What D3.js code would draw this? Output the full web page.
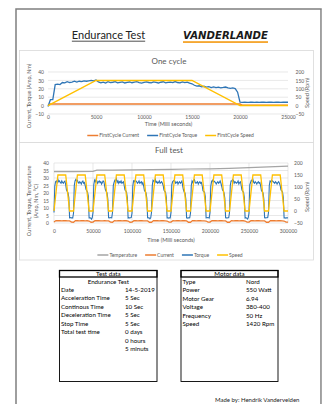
<!DOCTYPE html>
<html><head><meta charset="utf-8">
<script src="https://cdn.jsdelivr.net/npm/d3@7"></script>
<style>
body{margin:0;background:#fff;}
svg{display:block;font-family:Lato,"Open Sans",sans-serif;}
</style>
</head><body>
<svg id="c" width="322" height="404"></svg>
<script>
// ---------- DATA ----------
// One cycle (ms)
const cycleTorqueStep = 250;
const cycleTorque = [
 -1,7,7,25,25.5,25,27.5,27,28.5,27.5,28,29,28,29,28.5,29.5,29,29.5,30,29.5,30.5,
 28.2,27.1,27.9,26.8,28.4,27.3,27.8,28.6,27.0,27.7,28.3,26.9,27.6,28.1,27.2,27.9,28.5,27.4,26.8,27.7,
 28.2,27.5,27.0,28.3,27.6,26.9,27.8,28.4,27.1,27.6,28.0,27.3,28.6,27.5,27.0,28.2,27.4,27.9,26.7,26.0,
 24.2,23.1,23.6,22.4,23.0,22.1,22.6,21.5,22.2,21.4,22.0,21.2,21.6,22.1,21.0,20.6,21.1,20.2,16.0,
 4.0,3.8,4.1,3.9,4.0,4.2,3.9,4.0,3.8,4.1,4.0,3.9,4.1,4.0,3.8,4.0,4.1,3.9,4.0,4.1,4.0
];
const cycleCurrentT = [0, 250, 20000, 20250, 25000];
const cycleCurrent  = [0.3, 2, 2, 0.3, 0.3];
const cycleSpeedT = [0, 5000, 15000, 20000, 25000];
const cycleSpeed  = [0, 150, 150, 0, 0];

// Full test (ms)
const fullTorqueStep = 1000;
const fullTorque = [
 [7,24.5,27.5,28,27,29,27.5,28,27,26.5,28,27,26.5,27.5,28,25.5,22,21,20,17,3.5,3.6,3.4,3.5,3.3],
 [6.5,25,28,29,28,28.5,27,26.5,27.5,27,26,27.5,28,26.5,27,25,22.5,21.5,20.5,18,3.4,3.5,3.3,2.5,3.5],
 [7,25.5,28.5,27.5,29,28,26.5,27.5,28,27,27.5,26,27,28,27.5,24.5,22,21,20,16,3.5,3.4,3.6,3.5,3.4],
 [7,25,27,28.5,28,29.5,27,28,26.5,27.5,27,28,26.5,27,27.5,25,22,21.5,20.5,17,3.3,3.5,3.4,3.5,3.6],
 [6.5,24.5,28,27.5,28.5,28,27.5,26.5,27,28,26.5,27,27.5,26,27,24.5,21.5,21,20,16.5,3.5,3.4,3.5,2.8,3.5],
 [7,25,28.5,28,27,29,27,27.5,26.5,27,28,26.5,27,27.5,26.5,25,22,21,20.5,17,3.4,3.5,3.3,3.5,3.4],
 [7,25.5,27.5,28,28.5,28,26.5,27,27.5,26,27,27.5,26.5,27,28,24.5,22,20.5,20,16,3.5,3.3,3.5,3.4,3.5],
 [6.5,25,28,27,28.5,29,27,26.5,27,27.5,26,27,27.5,26.5,27,25,21.5,21,20.5,17.5,3.4,3.5,3.6,3.5,3.3],
 [7,24.5,27.5,28.5,27.5,28,27.5,27,26,27,27.5,26.5,27,28,26.5,24.5,22,21.5,20,16.5,3.5,3.4,3.3,3.5,3.5],
 [7,25,28,28,29,28.5,26.5,27.5,27,26.5,27,28,26,27,27.5,25,22,21,20.5,17,3.3,3.5,3.4,2.6,3.4],
 [6.5,25.5,27,28.5,28,29,27,26.5,27.5,27,26,27,27.5,26.5,27,24.5,21.5,21,20,16,3.5,3.4,3.5,3.5,3.6],
 [7,25,28,27.5,28.5,28,27.5,27,26.5,27.5,27,26,27,27.5,26.5,25,22,21.5,20.5,17,3.4,3.5,3.3,3.5,3.4]
];
const fullTorqueLast = 3.5;
const fullCurrentStep = 2500;
const fullCurrent = [
 [0.6,1.6,1.5,1.5,1.4,1.5,1.5,1.4,1.4,0.6],
 [0.5,1.6,1.5,1.4,1.5,1.5,1.4,1.5,1.3,0.5],
 [0.6,1.5,1.5,1.5,1.4,1.4,1.5,1.4,1.4,0.6],
 [0.5,1.6,1.4,1.5,1.5,1.4,1.5,1.5,1.3,0.5],
 [0.6,1.5,1.5,1.4,1.5,1.5,1.4,1.4,1.4,0.5],
 [0.5,1.6,1.5,1.5,1.4,1.5,1.5,1.4,1.3,0.6],
 [0.6,1.5,1.4,1.5,1.5,1.4,1.5,1.5,1.4,0.5],
 [0.5,1.6,1.5,1.4,1.5,1.5,1.4,1.4,1.3,0.6],
 [0.6,1.5,1.5,1.5,1.4,1.5,1.5,1.4,1.4,0.5],
 [0.5,1.6,1.4,1.5,1.5,1.4,1.5,1.5,1.3,0.6],
 [0.6,1.5,1.5,1.4,1.5,1.5,1.4,1.4,1.4,0.5],
 [0.5,1.6,1.5,1.5,1.4,1.5,1.5,1.4,1.3,0.6]
];
const fullCurrentLast = 0.6;
const fullTempT = [0,25000,50000,55000,75000,100000,125000,150000,175000,200000,225000,250000,275000,300000];
const fullTemp  = [34.2,34.3,34.4,35.2,35.3,35.4,35.6,35.8,36.0,36.1,36.4,36.9,37.4,37.9];
const fullSpeedT = [0,5000,15000,20000, 25000,30000,40000,45000, 50000,55000,65000,70000,
 75000,80000,90000,95000, 100000,105000,115000,120000, 125000,130000,140000,145000,
 150000,155000,165000,170000, 175000,180000,190000,195000, 200000,205000,215000,220000,
 225000,230000,240000,245000, 250000,255000,265000,270000, 275000,280000,290000,295000, 300000];
const fullSpeed = [0,150,150,0, 0,150,150,0, 0,150,150,0, 0,150,150,0, 0,150,150,0, 0,150,150,0,
 0,150,150,0, 0,150,150,0, 0,150,150,0, 0,150,150,0, 0,150,150,0, 0,150,150,0, 0];

// ticks
const c1XTicks = [0,5000,10000,15000,20000,25000];
const c1YTicks = [-10,0,10,20,30,40];
const c1RTicks = [-50,0,50,100,150,200];
const c2XTicks = [0,50000,100000,150000,200000,250000,300000];
const c2YTicks = [0,5,10,15,20,25,30,35,40];
const c2RTicks = [-50,0,50,100,150,200];

// tables
const testDataRows = [["Date","14-5-2019"],["Acceleration Time","5 Sec"],["Continous Time","10 Sec"],
 ["Deceleration Time","5 Sec"],["Stop Time","5 Sec"],["Total test time","0 days"],["","0 hours"],["","5 minuts"]];
const motorDataRows = [["Type","Nord"],["Power","550 Watt"],["Motor Gear","6.94"],["Voltage","380-400"],
 ["Frequency","50 Hz"],["Speed","1420 Rpm"]];

// ---------- DRAW ----------
const COL = {current:"#ED7D31", torque:"#2E75B6", speed:"#FFC000", temp:"#A5A5A5"};
const svg = d3.select("#c");
const TXT = "#595959";

// page border
svg.append("rect").attr("x",16).attr("y",9).attr("width",305).attr("height",430)
  .attr("fill","none").attr("stroke","#7f7f7f").attr("stroke-width",1.5);
svg.append("line").attr("x1",322).attr("x2",322).attr("y1",10).attr("y2",404)
  .attr("stroke","#b0b0b0").attr("stroke-width",1.2);

// header
const t1 = svg.append("text").attr("x",108.5).attr("y",39).attr("text-anchor","middle")
  .attr("font-size",11).attr("fill","#222").text("Endurance Test");
const bb = t1.node().getBBox();
svg.append("line").attr("x1",bb.x).attr("x2",bb.x+bb.width).attr("y1",41.2).attr("y2",41.2)
  .attr("stroke","#222").attr("stroke-width",0.8);
svg.append("text").attr("x",183).attr("y",39).attr("font-size",10).attr("font-weight",900)
  .attr("font-style","italic").attr("font-family","'DejaVu Sans',sans-serif")
  .attr("textLength",85).attr("lengthAdjust","spacingAndGlyphs").attr("fill","#1a1a1a").text("VANDERLANDE");
svg.append("rect").attr("x",183).attr("y",41.3).attr("width",85).attr("height",1.5).attr("fill","#F39200");

// chart boxes
svg.append("rect").attr("x",19.5).attr("y",50.5).attr("width",294).attr("height",92)
  .attr("fill","#fff").attr("stroke","#d9d9d9").attr("stroke-width",0.8);
svg.append("rect").attr("x",19.5).attr("y",142.5).attr("width",294).attr("height",117.5)
  .attr("fill","#fff").attr("stroke","#d9d9d9").attr("stroke-width",0.8);

function lineGen(x,y){return d3.line().x(d=>x(d[0])).y(d=>y(d[1]));}

function drawAxes(g, x, y, yr, xt, yt, rt, x0, x1, yb, ltx, rtx, xpad){
  g.append("g").selectAll("line").data(yt).join("line")
    .attr("x1",x0).attr("x2",x1).attr("y1",d=>y(d)).attr("y2",d=>y(d))
    .attr("stroke","#d9d9d9").attr("stroke-width",0.6);
  const la = g.append("g").attr("transform",`translate(${ltx},0)`)
    .call(d3.axisLeft(y).tickValues(yt).tickSize(0).tickPadding(0));
  const ra = g.append("g").attr("transform",`translate(${rtx},0)`)
    .call(d3.axisRight(yr).tickValues(rt).tickSize(0).tickPadding(0));
  const xa = g.append("g").attr("transform",`translate(0,${yb})`)
    .call(d3.axisBottom(x).tickValues(xt).tickSize(0).tickPadding(xpad).tickFormat(d3.format("d")));
  [la,ra,xa].forEach(a=>{a.select(".domain").remove();
    a.selectAll("text").attr("font-size",5).attr("fill",TXT).attr("font-family","Lato,sans-serif");});
}

function legend(items, cx, cy){
  const g = svg.append("g");
  let xpos = 0;
  items.forEach(it=>{
    const gi = g.append("g");
    gi.append("line").attr("x1",0).attr("x2",11).attr("y1",0).attr("y2",0)
      .attr("stroke",it.c).attr("stroke-width",1.5);
    const t = gi.append("text").attr("x",12).attr("y",0).attr("dy","0.35em")
      .attr("font-size",5).attr("fill",TXT).text(it.n);
    const w = 12 + t.node().getComputedTextLength();
    gi.attr("transform",`translate(${xpos},${cy})`);
    xpos += w + 8;
  });
  const total = xpos - 8;
  g.attr("transform",`translate(${cx-total/2},0)`);
}

// ---- Chart 1 ----
{
  const x = d3.scaleLinear([0,25000],[48,288]);
  const y = d3.scaleLinear([-10,40],[114,72]);
  const yr = d3.scaleLinear([-50,200],[114,72]);
  const g = svg.append("g");
  drawAxes(g,x,y,yr,c1XTicks,c1YTicks,c1RTicks,48,288,114,44,295.5,1);
  g.append("text").attr("x",169).attr("y",61).attr("dy","0.35em").attr("text-anchor","middle")
    .attr("font-size",8).attr("fill",TXT).text("One cycle");
  g.append("text").attr("x",168.5).attr("y",125.5).attr("text-anchor","middle")
    .attr("font-size",5.5).attr("fill",TXT).text("Time (Milli seconds)");
  g.append("text").attr("transform","translate(31,96) rotate(-90)").attr("text-anchor","middle")
    .attr("font-size",5.5).attr("fill",TXT).text("Current, Torque (Amp, Nm)");
  g.append("text").attr("transform","translate(307,93) rotate(-90)").attr("text-anchor","middle")
    .attr("dy","0.35em").attr("font-size",5.5).attr("fill",TXT).text("Speed (Rpm)");
  const cur = cycleCurrentT.map((t,i)=>[t,cycleCurrent[i]]);
  const tor = cycleTorque.map((v,i)=>[i*cycleTorqueStep,v]);
  const spd = cycleSpeedT.map((t,i)=>[t,cycleSpeed[i]]);
  g.append("path").attr("d",lineGen(x,y)(cur)).attr("fill","none").attr("stroke",COL.current).attr("stroke-width",1.5);
  g.append("path").attr("d",lineGen(x,y)(tor)).attr("fill","none").attr("stroke",COL.torque).attr("stroke-width",1.3);
  g.append("path").attr("d",lineGen(x,yr)(spd)).attr("fill","none").attr("stroke",COL.speed).attr("stroke-width",1.5);
  legend([{n:"FirstCycle Current",c:COL.current},{n:"FirstCycle Torque",c:COL.torque},{n:"FirstCycle Speed",c:COL.speed}],170.5,135.5);
}

// ---- Chart 2 ----
{
  const x = d3.scaleLinear([0,300000],[54,288]);
  const y = d3.scaleLinear([0,40],[223,163]);
  const yr = d3.scaleLinear([-50,200],[223,163]);
  const g = svg.append("g");
  g.append("g").selectAll("line").data(c2XTicks).join("line")
    .attr("x1",d=>x(d)).attr("x2",d=>x(d)).attr("y1",163).attr("y2",223)
    .attr("stroke","#d9d9d9").attr("stroke-width",0.6);
  drawAxes(g,x,y,yr,c2XTicks,c2YTicks,c2RTicks,54,288,223,49,294,6);
  g.append("text").attr("x",169).attr("y",150).attr("dy","0.35em").attr("text-anchor","middle")
    .attr("font-size",8).attr("fill",TXT).text("Full test");
  g.append("text").attr("x",171).attr("y",242).attr("text-anchor","middle")
    .attr("font-size",5.5).attr("fill",TXT).text("Time (Milli seconds)");
  g.append("text").attr("transform","translate(31,201) rotate(-90)").attr("text-anchor","middle")
    .attr("font-size",5.5).attr("fill",TXT).text("Current, Torque, Temperature");
  g.append("text").attr("transform","translate(38,201) rotate(-90)").attr("text-anchor","middle")
    .attr("font-size",5.5).attr("fill",TXT).text("(Amp, Nm, °C)");
  g.append("text").attr("transform","translate(307,197) rotate(-90)").attr("text-anchor","middle")
    .attr("dy","0.35em").attr("font-size",5.5).attr("fill",TXT).text("Speed (Rpm)");
  const tmp = fullTempT.map((t,i)=>[t,fullTemp[i]]);
  const cur = fullCurrent.flatMap((row,c)=>row.map((v,i)=>[c*25000+i*fullCurrentStep,v])).concat([[300000,fullCurrentLast]]);
  const tor = fullTorque.flatMap((row,c)=>row.map((v,i)=>[c*25000+i*fullTorqueStep,v])).concat([[300000,fullTorqueLast]]);
  const spd = fullSpeedT.map((t,i)=>[t,fullSpeed[i]]);
  g.append("path").attr("d",lineGen(x,y)(tmp)).attr("fill","none").attr("stroke",COL.temp).attr("stroke-width",1.2);
  g.append("path").attr("d",lineGen(x,y)(cur)).attr("fill","none").attr("stroke",COL.current).attr("stroke-width",1.3);
  g.append("path").attr("d",lineGen(x,y)(tor)).attr("fill","none").attr("stroke",COL.torque).attr("stroke-width",1.1);
  g.append("path").attr("d",lineGen(x,yr)(spd)).attr("fill","none").attr("stroke",COL.speed).attr("stroke-width",1.3);
  legend([{n:"Temperature",c:COL.temp},{n:"Current",c:COL.current},{n:"Torque",c:COL.torque},{n:"Speed",c:COL.speed}],170,255);
}

// ---- Tables ----
function table(x0, x1, yTop, yBot, title, sub, rows, c1x, c2x, rowY0){
  const g = svg.append("g").attr("font-size",6.2).attr("fill","#000");
  g.append("rect").attr("x",x0).attr("y",yTop).attr("width",x1-x0).attr("height",yBot-yTop)
    .attr("fill","#fff").attr("stroke","#000").attr("stroke-width",0.9);
  g.append("rect").attr("x",x0).attr("y",yTop).attr("width",x1-x0).attr("height",6.5)
    .attr("fill","none").attr("stroke","#000").attr("stroke-width",1.3);
  g.append("text").attr("x",(x0+x1)/2).attr("y",yTop+3.4).attr("dy","0.35em").attr("text-anchor","middle").text(title);
  if(sub) g.append("text").attr("x",(x0+x1)/2).attr("y",yTop+11).attr("dy","0.35em").attr("text-anchor","middle").text(sub);
  rows.forEach((r,i)=>{
    const yy = rowY0 + i*8.5;
    g.append("text").attr("x",c1x).attr("y",yy).attr("dy","0.35em").text(r[0]);
    g.append("text").attr("x",c2x).attr("y",yy).attr("dy","0.35em").text(r[1]);
  });
}
table(59.5,157,270.5,381.5,"Test data","Endurance Test",testDataRows,61,125,289.5);
table(181,278,270.5,381.5,"Motor data",null,motorDataRows,182.5,246,281.5);

svg.append("text").attr("x",215).attr("y",400).attr("dy","0.35em").attr("font-size",6)
  .attr("fill","#222").text("Made by: Hendrik Vandervelden");
</script>
</body></html>
